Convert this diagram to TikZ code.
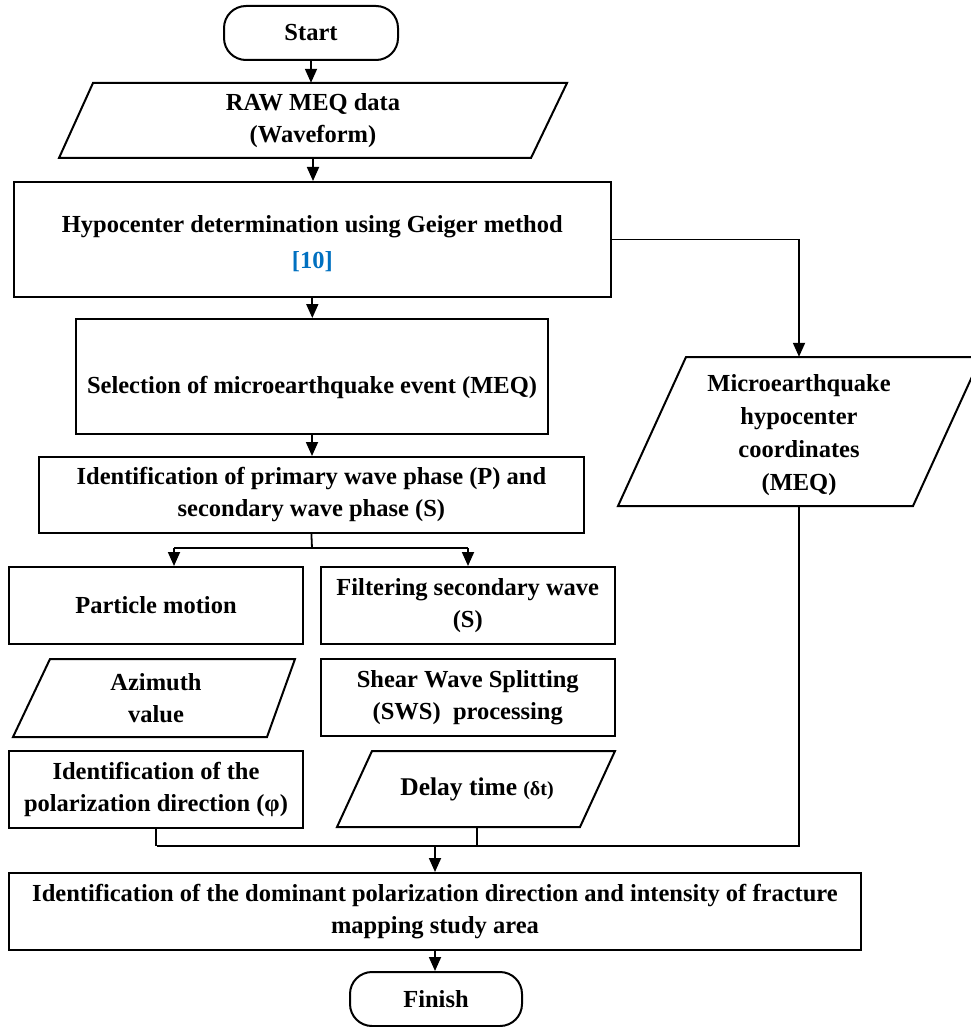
\documentclass[tikz,border=0pt]{standalone}
\usepackage{fontspec}
\setmainfont{Liberation Serif}
\usetikzlibrary{arrows.meta,calc}
\definecolor{refblue}{RGB}{0,112,192}
\begin{document}
\begin{tikzpicture}[x=1pt,y=-1pt,
  every node/.style={font=\fontsize{24.5}{32}\selectfont\bfseries, align=center, inner sep=0pt},
  box/.style={draw, line width=2pt},
  term/.style={draw, line width=2pt, rounded corners=22pt},
  shp/.style={draw, line width=2pt, line join=miter},
  arr/.style={line width=1.8pt, -{Triangle[length=14pt,width=12pt]}},
  ln/.style={line width=1.8pt},
]
\useasboundingbox (0,0) rectangle (970,1027);

% terminals
\node[term, minimum width=174pt, minimum height=54pt] (start) at (311,33) {Start};
\node[term, minimum width=172pt, minimum height=54pt] (finish) at (436,999) {Finish};

% raw data (parallelogram)
\draw[shp] (93,83) -- (567,83) -- (531,158) -- (59,158) -- cycle;
\node[minimum width=474pt, minimum height=75pt] (raw) at (313,120.5) {RAW MEQ data\\(Waveform)};

% process boxes
\node[box, minimum width=597pt, minimum height=115pt] (hypo) at (312.3,239.5) {};
\node (hypoT) at (312.3,244)
  {Hypocenter determination using Geiger method\\[4pt]{\color{refblue}[10]}};
\node[box, minimum width=472pt, minimum height=115pt] (sel) at (312,376.5) {};
\node (selT) at (312,387) {Selection of microearthquake event (MEQ)};
\node[box, minimum width=545pt, minimum height=76pt] (ident) at (311.4,495)
  {Identification of primary wave phase (P) and\\secondary wave phase (S)};
\node[box, minimum width=294pt, minimum height=77pt] (part) at (156,605.5) {Particle motion};
\node[box, minimum width=293.5pt, minimum height=77pt] (filt) at (467.75,605.5)
  {Filtering secondary wave\\(S)};

% azimuth (parallelogram)
\draw[shp] (50,659) -- (295,659) -- (267,737) -- (13,737) -- cycle;
\node[minimum width=250pt, minimum height=78pt] (azi) at (156,698) {Azimuth\\value};

\node[box, minimum width=293.5pt, minimum height=77pt] (sws) at (467.75,697.5)
  {Shear Wave Splitting\\(SWS)\ \ processing};
\node[box, minimum width=294pt, minimum height=77pt] (pol) at (156,789.5)
  {Identification of the\\polarization direction (φ)};

% delay time (parallelogram)
\draw[shp] (372,751) -- (615,751) -- (580,827) -- (337,827) -- cycle;
\node[minimum width=245pt, minimum height=76pt] (delay) at (477,789)
  {{\fontsize{25.5}{32}\selectfont Delay time} {\fontsize{20}{24}\selectfont(δt)}};

% MEQ hypocenter coordinates (parallelogram)
\draw[shp] (686,357) -- (981,357) -- (913,506) -- (618,506) -- cycle;
\node[minimum width=295pt, minimum height=149pt] (meq) at (799,431.5) {};
\node[font=\fontsize{24.5}{33}\selectfont\bfseries] (meqT) at (799,435.5)
  {Microearthquake\\hypocenter\\coordinates\\(MEQ)};

% final
\node[box, minimum width=852pt, minimum height=77pt] (final) at (435,911.5)
  {Identification of the dominant polarization direction and intensity of fracture\\mapping study area};

% connectors
\draw[arr] (start.south) -- (start.south |- raw.north);
\draw[arr] (raw.south) -- (raw.south |- hypo.north);
\draw[arr] (hypo.south) -- (hypo.south |- sel.north);
\draw[arr] (hypo.east) -| (meq.north);
\draw[arr] (sel.south) -- (sel.south |- ident.north);

\coordinate (split) at (312,548);
\coordinate (splitL) at (174,548);
\coordinate (splitR) at (468,548);
\draw[ln] (ident.south) -- (split);
\draw[ln] (splitL) -- (splitR);
\draw[arr] (splitL) -- (splitL |- part.north);
\draw[arr] (splitR) -- (splitR |- filt.north);

\coordinate (mL) at (157,846);
\coordinate (mA) at (435,846);
\draw[ln] (pol.south) -- (pol.south |- mL);
\draw[ln] (delay.south) -- (delay.south |- mL);
\draw[ln] (meq.south) |- (mL);
\draw[arr] (mA) -- (mA |- final.north);
\draw[arr] (final.south) -- (final.south |- finish.north);
\end{tikzpicture}
\end{document}
